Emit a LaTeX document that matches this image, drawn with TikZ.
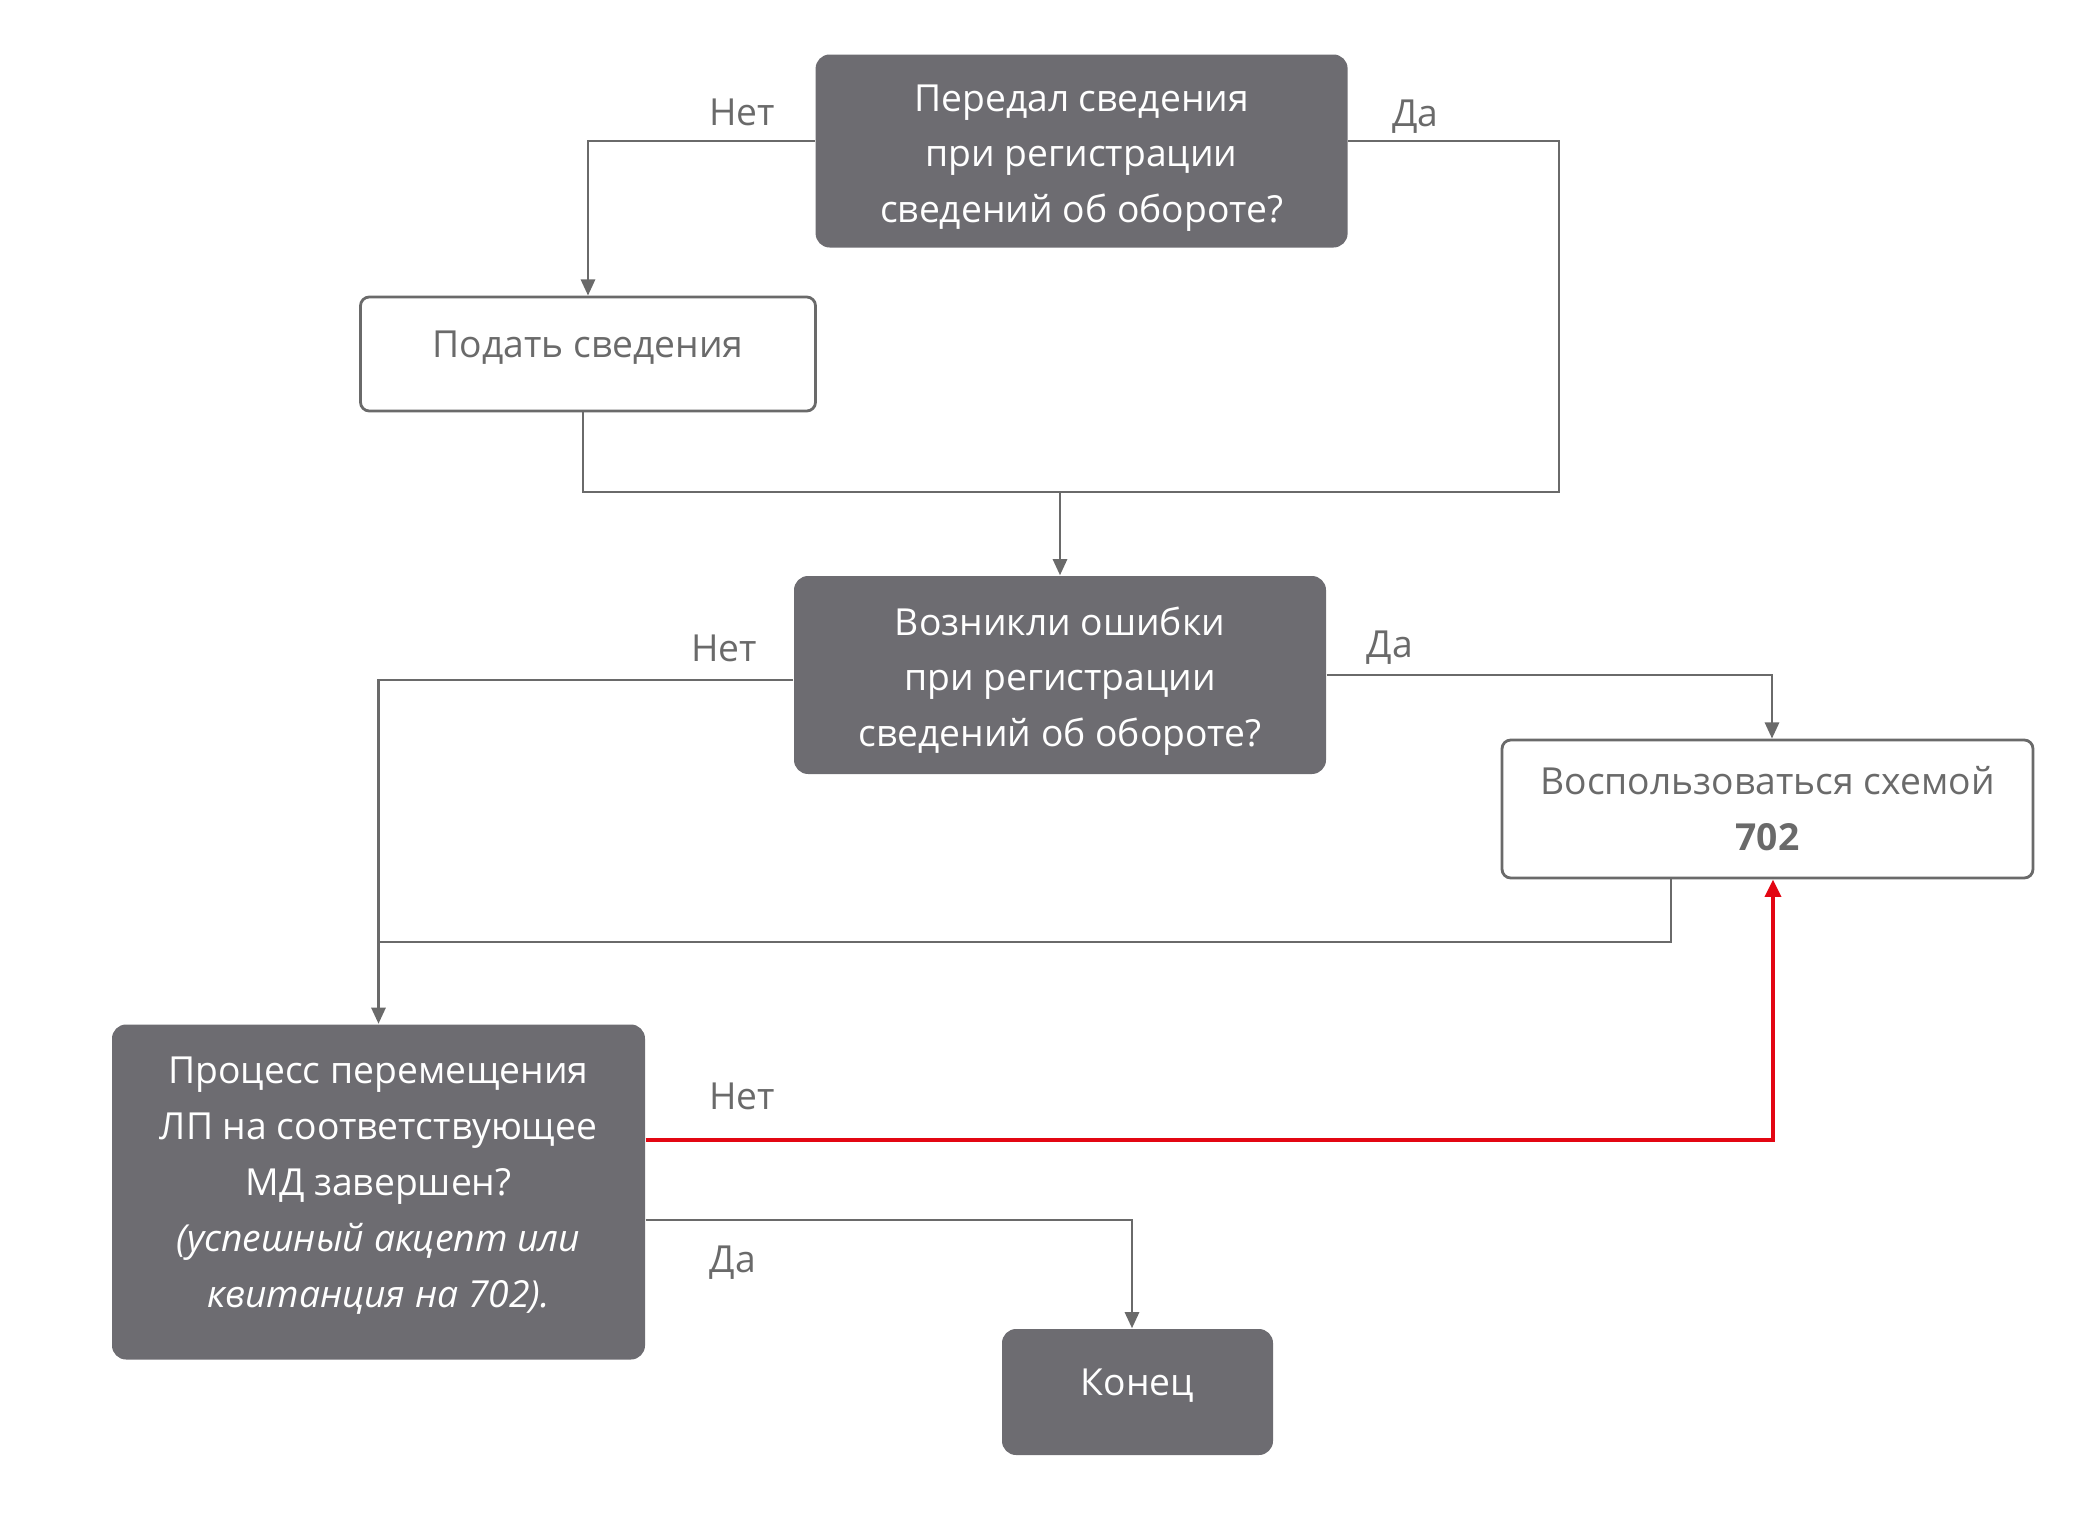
\documentclass[tikz,border=0pt]{standalone}
\usepackage{fontspec}
\setmainfont{Open Sans}
\usetikzlibrary{arrows.meta}

\definecolor{boxgray}{HTML}{6D6C71}
\definecolor{linegray}{HTML}{6A6A6A}
\definecolor{flowred}{HTML}{E30613}

\newcommand{\topgap}{\rule{0pt}{11.6pt}}
\newcommand{\botgap}{\rule[-5.6pt]{0pt}{0pt}}

\tikzset{
  question/.style={draw=none, fill=boxgray, rounded corners=4pt, text=white, align=center,
    font=\fontsize{10.6}{15.9}\selectfont, inner sep=0pt},
  action/.style={draw=linegray, line width=0.8pt, fill=white, rounded corners=2.5pt, text=linegray,
    align=center, font=\fontsize{10.6}{15.9}\selectfont, inner sep=0pt},
  conn/.style={draw=linegray, line width=0.8pt},
  arr/.style={conn, -{Triangle[width=4pt,length=4.6pt]}},
  redarr/.style={draw=flowred, line width=1.2pt, -{Triangle[width=4.5pt,length=5pt]}},
  answer/.style={text=linegray, font=\fontsize{10.6}{15.9}\selectfont}
}

\begin{document}
\begin{tikzpicture}
    \useasboundingbox (0,0) rectangle (20.86,-15.27);

    % Blocks
    \node[question, minimum width=5.32cm, minimum height=1.93cm] (sent) at (10.816,-1.51)
        {\topgap Передал сведения\\при регистрации\\сведений об обороте?};
    \node[action, minimum width=4.55cm, minimum height=1.14cm, text depth=0.19cm] (submit) at (5.88,-3.54)
        {Подать сведения};
    \node[question, minimum width=5.32cm, minimum height=1.98cm] (errors) at (10.60,-6.75)
        {\topgap Возникли ошибки\\при регистрации\\сведений об обороте?};
    \node[action, minimum width=5.31cm, minimum height=1.38cm] (scheme) at (17.675,-8.09)
        {Воспользоваться схемой\\\textbf{702}};
    \node[question, minimum width=5.33cm, minimum height=3.35cm] (moved) at (3.785,-11.92)
        {Процесс перемещения\\ЛП на соответствующее\\МД завершен?\\\textit{(успешный акцепт или}\\\textit{квитанция на 702).}\botgap};
    \node[question, minimum width=2.71cm, minimum height=1.26cm, text depth=5.6pt] (finish) at (11.375,-13.92) {Конец};

    % Junctions
    \coordinate (joinA) at (10.60,-4.92);
    \coordinate (cornerA) at (15.59,-4.92);
    \coordinate (joinB) at (3.785,-9.42);

    % Connectors
    \draw[arr] ([yshift=1mm]sent.west) -| (submit.north);
    \draw[conn] ([yshift=1mm]sent.east) -| (cornerA) -- (joinA);
    \draw[conn] ([xshift=-0.5mm]submit.south) |- (joinA);
    \draw[arr] (joinA) -- (errors.north);
    \draw[arr] ([yshift=-0.5mm]errors.west) -| (moved.north);
    \draw[arr] (errors.east) -| ([xshift=0.45mm]scheme.north);
    \draw[conn] ([xshift=-9.65mm]scheme.south) |- (joinB);
    \draw[redarr] ([yshift=5.2mm]moved.east) -| ([xshift=0.55mm]scheme.south); % red loop
    \draw[arr] ([yshift=-2.8mm]moved.east) -| ([xshift=-0.55mm]finish.north);

    % Answers
    \node[answer] (no1) at (7.42,-1.12) {Нет};
    \node[answer] (yes1) at (14.155,-1.17) {Да};
    \node[answer] (no2) at (7.24,-6.48) {Нет};
    \node[answer] (yes2) at (13.90,-6.48) {Да};
    \node[answer] (no3) at (7.42,-10.96) {Нет};
    \node[answer] (yes3) at (7.33,-12.63) {Да};
\end{tikzpicture}
\end{document}
